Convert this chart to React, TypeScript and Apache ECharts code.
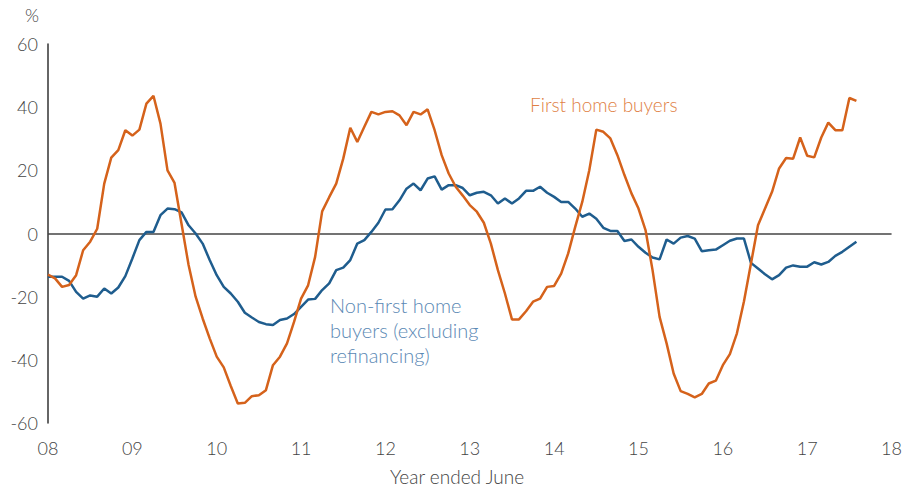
import React, { useEffect, useRef } from "react";
import * as echarts from "echarts";

// Monthly observations, first point at the "08" tick (x index 0 = start of axis)
const startYearLabel = 8;
const yTicks = { min: -60, max: 60, interval: 20 };
const xTickYears = ["08", "09", "10", "11", "12", "13", "14", "15", "16", "17", "18"];

const firstHomeBuyers = [
  -13, -14.2, -16.9, -16.3, -13.2, -5.3, -2.6, 1.5, 15.8, 24, 26.4, 32.7,
  31, 32.9, 41.1, 43.6, 34.8, 20, 16, 3, -10, -20, -26.9, -33.2,
  -39, -42.4, -48.3, -53.8, -53.6, -51.5, -51.2, -49.6, -41.7, -39, -34.8, -28,
  -20.6, -16.4, -7.4, 7, 11.5, 15.8, 23.7, 33.5, 29, 33.8, 38.5, 37.7,
  38.5, 38.7, 37.4, 34.3, 38.5, 37.7, 39.3, 32.7, 24.8, 19, 14.8, 12,
  9, 6.9, 3.4, -3.2, -11.6, -19, -27.2, -27.2, -24.6, -21.6, -20.6, -16.9,
  -16.6, -12.7, -6.3, 2.1, 10, 20, 32.9, 32.2, 30.1, 24.8, 18.5, 12.7,
  7.9, 1.1, -11.6, -26.4, -34.8, -44.3, -49.9, -50.8, -51.9, -50.8, -47.5, -46.6,
  -41.7, -38.2, -31.6, -21.5, -9.5, 2.6, 7.9, 13.2, 20.6, 23.9, 23.7, 30.4,
  24.6, 24.1, 30.4, 35.1, 32.7, 32.7, 42.9, 42,
];

const nonFirstHomeBuyers = [
  -13.7, -13.7, -13.7, -15, -18.5, -20.6, -19.6, -20, -17.4, -19, -17.1, -13.5,
  -7.9, -2.1, 0.5, 0.5, 5.8, 7.9, 7.7, 6.7, 2.6, 0, -3.2, -8.4,
  -13.2, -16.9, -19, -21.6, -25.1, -26.6, -28, -28.7, -29, -27.4, -26.9, -25.5,
  -23.2, -20.9, -20.7, -17.9, -15.8, -11.6, -10.8, -8.4, -3.2, -2.1, 0.5, 3.4,
  7.6, 7.7, 10.5, 14.2, 15.8, 13.7, 17.4, 18.1, 13.9, 15.3, 15.3, 14.4,
  12.1, 12.9, 13.2, 12.1, 9.5, 11.1, 9.5, 11.1, 13.5, 13.5, 14.8, 12.9,
  11.6, 10, 10, 7.9, 5.3, 6.3, 4.7, 1.8, 0.8, 0.8, -2.4, -1.9,
  -4.2, -6.1, -7.6, -8.2, -1.9, -3.2, -1.3, -0.8, -1.6, -5.6, -5.3, -5.1,
  -3.7, -2.3, -1.6, -1.6, -9.3, -11.1, -12.9, -14.5, -13.2, -10.8, -10.1, -10.5,
  -10.5, -9.1, -9.8, -9, -7.1, -5.8, -4.2, -2.6,
];

const FONT = "Lato, 'Open Sans', sans-serif";
const ORANGE = "#d5621b";
const BLUE = "#1f5d8e";

export default function App() {
  const ref = useRef<HTMLDivElement>(null);

  useEffect(() => {
    if (!ref.current) return;
    const chart = echarts.init(ref.current, undefined, { renderer: "svg" });
    const toPairs = (arr: number[]) => arr.map((v, i) => [i, v]);
    chart.setOption({
      animation: false,
      backgroundColor: "#ffffff",
      grid: { left: 48, right: 11, top: 44, bottom: 67, containLabel: false },
      xAxis: {
        type: "value",
        min: 0,
        max: (xTickYears.length - 1) * 12,
        interval: 12,
        axisLine: { show: false },
        axisTick: { show: false },
        splitLine: { show: false },
        axisLabel: {
          margin: 16,
          fontFamily: FONT,
          fontSize: 18,
          fontWeight: 300,
          color: "#444",
          formatter: (v: number) => xTickYears[Math.round(v / 12)] ?? String(startYearLabel + v / 12),
        },
      },
      yAxis: {
        type: "value",
        min: yTicks.min,
        max: yTicks.max,
        interval: yTicks.interval,
        axisLine: { show: true, lineStyle: { color: "#333", width: 1.5 } },
        axisTick: { show: false },
        splitLine: { show: false },
        axisLabel: {
          margin: 10,
          fontFamily: FONT,
          fontSize: 18,
          fontWeight: 300,
          color: "#444",
        },
      },
      series: [
        {
          name: "Non-first home buyers (excluding refinancing)",
          type: "line",
          data: toPairs(nonFirstHomeBuyers),
          showSymbol: false,
          lineStyle: { color: BLUE, width: 2.5 },
          itemStyle: { color: BLUE },
          z: 3,
          markLine: {
            silent: true,
            symbol: ["none", "none"],
            label: { show: false },
            lineStyle: { color: "#444", width: 1.5, type: "solid" },
            data: [{ yAxis: 0 }],
            z: 1,
          },
        },
        {
          name: "First home buyers",
          type: "line",
          data: toPairs(firstHomeBuyers),
          showSymbol: false,
          lineStyle: { color: ORANGE, width: 2.5 },
          itemStyle: { color: ORANGE },
          z: 4,
        },
      ],
      graphic: [
        {
          type: "text",
          left: 25,
          top: 6,
          style: { text: "%", fontFamily: FONT, fontSize: 18, fontWeight: 300, fill: "#444" },
        },
        {
          type: "text",
          left: 390,
          top: 467,
          style: { text: "Year ended June", fontFamily: FONT, fontSize: 19, fontWeight: 300, fill: "#444" },
        },
        {
          type: "text",
          left: 530,
          top: 95,
          style: { text: "First home buyers", fontFamily: FONT, fontSize: 19, fontWeight: 300, fill: "#e07f45" },
        },
        {
          type: "text",
          left: 330,
          top: 292,
          style: {
            text: "Non-first home\nbuyers (excluding\nrefinancing)",
            fontFamily: FONT,
            fontSize: 20,
            fontWeight: 300,
            lineHeight: 25,
            fill: "#5a88b4",
          },
        },
      ],
    });
    return () => chart.dispose();
  }, []);

  return (
    <div
      ref={ref}
      style={{ position: "absolute", left: 0, top: 0, width: 905, height: 490, background: "#fff" }}
    />
  );
}
